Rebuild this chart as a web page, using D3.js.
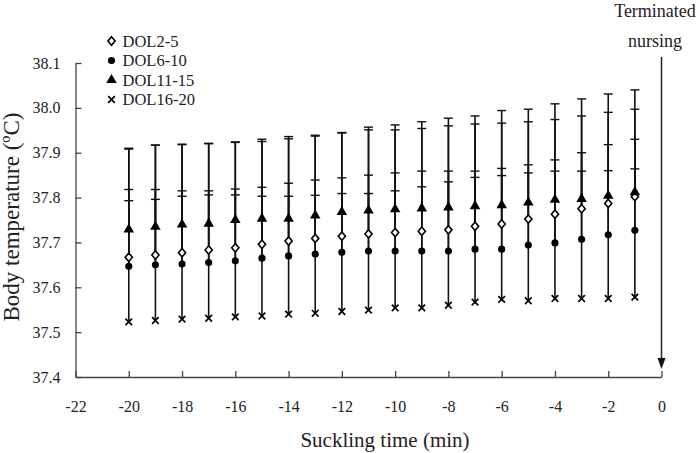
<!DOCTYPE html>
<html>
<head>
<meta charset="utf-8">
<script src="https://cdn.jsdelivr.net/npm/d3@7"></script>
<style>
body { margin: 0; background: #fff; }
svg text { font-family: "Liberation Serif", "Times New Roman", serif; }
</style>
</head>
<body>
<div id="canvas"></div>
<script>
const minutes = [-20, -19, -18, -17, -16, -15, -14, -13, -12, -11, -10, -9, -8, -7, -6, -5, -4, -3, -2, -1];
const seriesNames = ["DOL2-5", "DOL6-10", "DOL11-15", "DOL16-20"];

// means
const dol2_5 = [37.667, 37.672, 37.677, 37.683, 37.688, 37.696, 37.703, 37.709, 37.714, 37.719, 37.722, 37.725, 37.728, 37.736, 37.741, 37.752, 37.763, 37.775, 37.787, 37.802];
const dol6_10 = [37.647, 37.650, 37.652, 37.655, 37.659, 37.665, 37.670, 37.674, 37.678, 37.681, 37.681, 37.681, 37.681, 37.685, 37.685, 37.694, 37.699, 37.707, 37.717, 37.727];
const dol11_15 = [37.729, 37.735, 37.740, 37.742, 37.750, 37.753, 37.753, 37.760, 37.768, 37.771, 37.774, 37.776, 37.778, 37.781, 37.783, 37.789, 37.795, 37.797, 37.804, 37.812];
const dol16_20 = [37.523, 37.526, 37.529, 37.531, 37.534, 37.536, 37.540, 37.542, 37.546, 37.549, 37.554, 37.554, 37.560, 37.567, 37.573, 37.570, 37.575, 37.575, 37.575, 37.578];

// upper ends of the error bars
const dol2_5Up = [37.818, 37.818, 37.815, 37.815, 37.819, 37.823, 37.832, 37.839, 37.844, 37.850, 37.855, 37.859, 37.859, 37.859, 37.865, 37.873, 37.884, 37.900, 37.918, 37.930];
const dol6_10Up = [37.908, 37.917, 37.918, 37.920, 37.923, 37.925, 37.931, 37.937, 37.944, 37.951, 37.951, 37.954, 37.960, 37.964, 37.966, 37.969, 37.974, 37.982, 37.990, 37.997];
const dol11_15Up = [37.793, 37.796, 37.803, 37.806, 37.806, 37.803, 37.803, 37.805, 37.809, 37.809, 37.815, 37.824, 37.835, 37.845, 37.849, 37.855, 37.859, 37.859, 37.860, 37.864];
const dol16_20Up = [37.910, 37.917, 37.919, 37.921, 37.924, 37.930, 37.936, 37.939, 37.945, 37.957, 37.962, 37.969, 37.977, 37.982, 37.994, 37.997, 38.009, 38.020, 38.031, 38.040];

const xTicks = [-22, -20, -18, -16, -14, -12, -10, -8, -6, -4, -2, 0];
const yTicks = [37.4, 37.5, 37.6, 37.7, 37.8, 37.9, 38.0, 38.1];

const width = 700;
const height = 453;
const serif = '"Liberation Serif", "Times New Roman", serif';

const canvas = d3.select("#canvas");
const svg = canvas.append("svg")
    .attr("width", width)
    .attr("height", height);

const x = d3.scaleLinear()
    .domain([-22, 0])
    .range([75.5, 661.5]);

const y = d3.scaleLinear()
    .domain([37.4, 38.1])
    .range([377, 63]);

const means = [dol2_5, dol6_10, dol11_15, dol16_20];
const uppers = [dol2_5Up, dol6_10Up, dol11_15Up, dol16_20Up];

// marker shapes: open diamond, dot, triangle, cross
const sym = i => {
    if (i === 0) return "M0,-4.2L3.6,0L0,4.2L-3.6,0Z";
    if (i === 1) return d3.symbol().type(d3.symbolCircle).size(40)();
    if (i === 2) return d3.symbol().type(d3.symbolTriangle).size(48)();
    return "M-3.3,-3.3L3.3,3.3M-3.3,3.3L3.3,-3.3";
};
const symFill = ["#fff", "#000", "#000", "none"];
const symStroke = [1.6, 0, 0, 1.7];

// axes
const xAxis = svg.append("g")
    .attr("transform", `translate(0,${y(37.4)})`)
    .call(d3.axisBottom(x).tickValues(xTicks).tickSizeInner(-6).tickSizeOuter(0).tickPadding(24).tickFormat(d => String(d)));

const yAxis = svg.append("g")
    .attr("transform", `translate(${x(-22)},0)`)
    .call(d3.axisLeft(y).tickValues(yTicks).tickSizeInner(-6).tickSizeOuter(0).tickPadding(15).tickFormat(d3.format(".1f")));

[xAxis, yAxis].forEach(a => {
    a.attr("font-family", serif);
    a.selectAll("path, line").attr("stroke", "#444").attr("stroke-width", 1.3);
    a.selectAll("text").attr("font-size", 16).attr("fill", "#222")
        .attr("font-family", serif);
});

// error bars
means.forEach((m, si) => {
    const eb = svg.append("g").attr("class", "err");
    eb.selectAll("line.v").data(minutes).enter().append("line")
        .attr("class", "v")
        .attr("x1", d => x(d)).attr("x2", d => x(d))
        .attr("y1", (d, i) => y(m[i]))
        .attr("y2", (d, i) => y(uppers[si][i]))
        .attr("stroke", "#111").attr("stroke-width", 1.6);
    eb.selectAll("line.c").data(minutes).enter().append("line")
        .attr("class", "c")
        .attr("x1", d => x(d) - 4.5).attr("x2", d => x(d) + 4.5)
        .attr("y1", (d, i) => y(uppers[si][i]))
        .attr("y2", (d, i) => y(uppers[si][i]))
        .attr("stroke", "#111").attr("stroke-width", 1.4);
});

// markers
means.forEach((m, si) => {
    svg.append("g").selectAll("path").data(minutes).enter().append("path")
        .attr("d", sym(si))
        .attr("transform", (d, i) => `translate(${x(d)},${y(m[i])})`)
        .attr("fill", symFill[si])
        .attr("stroke", "#000")
        .attr("stroke-width", symStroke[si]);
});

// terminated nursing arrow
svg.append("line")
    .attr("x1", x(0)).attr("x2", x(0))
    .attr("y1", 57).attr("y2", 360)
    .attr("stroke", "#222").attr("stroke-width", 1.5);
svg.append("path")
    .attr("d", `M${x(0) - 4},358L${x(0) + 4},358L${x(0)},369Z`)
    .attr("fill", "#111");

svg.append("text").attr("x", 655).attr("y", 17)
    .attr("text-anchor", "middle").attr("font-size", 18).attr("fill", "#222")
    .attr("font-family", serif)
    .text("Terminated");
svg.append("text").attr("x", 655).attr("y", 47)
    .attr("text-anchor", "middle").attr("font-size", 18).attr("fill", "#222")
    .attr("font-family", serif)
    .text("nursing");

// legend
const legend = svg.append("g");
seriesNames.forEach((n, i) => {
    const row = legend.append("g").attr("transform", `translate(111.5,${41 + i * 19.5})`);
    row.append("path")
        .attr("d", sym(i))
        .attr("fill", symFill[i])
        .attr("stroke", "#000")
        .attr("stroke-width", symStroke[i]);
    row.append("text")
        .attr("x", 11).attr("y", 5.5)
        .attr("font-size", 16.5).attr("fill", "#222")
        .attr("font-family", serif)
        .text(n);
});

// axis titles
svg.append("text")
    .attr("x", 385).attr("y", 447)
    .attr("text-anchor", "middle").attr("font-size", 21).attr("fill", "#222")
    .attr("font-family", serif)
    .text("Suckling time (min)");

svg.append("text")
    .attr("transform", `translate(19,217) rotate(-90)`)
    .attr("text-anchor", "middle").attr("font-size", 23).attr("fill", "#222")
    .attr("font-family", serif)
    .text("Body temperature (ºC)");
</script>
</body>
</html>
